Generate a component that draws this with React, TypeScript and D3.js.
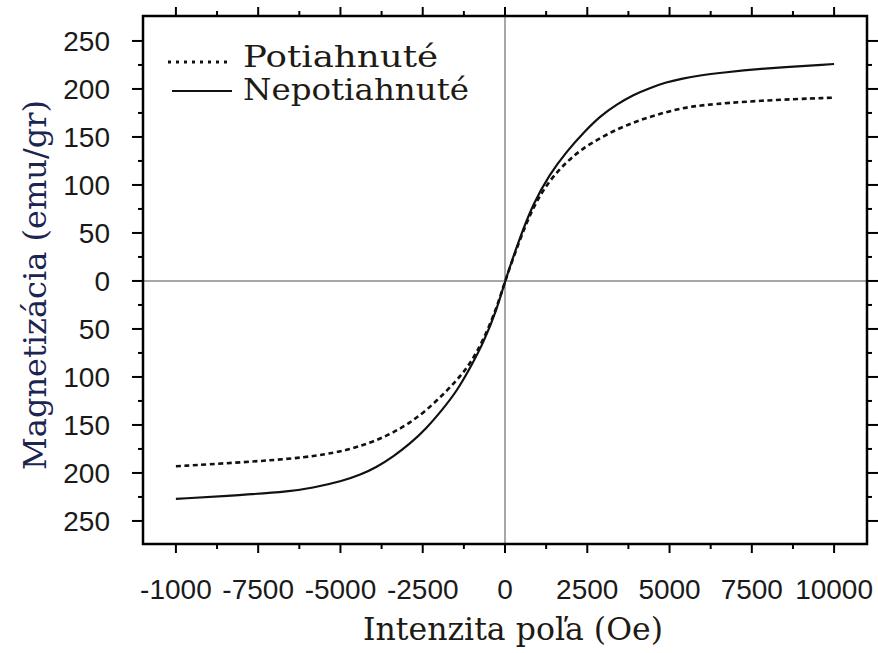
import React from "react";
import * as d3 from "d3";

// Nepotiahnuté (solid)
const solidField = [-10000, -8000, -6500, -5900, -4900, -4400, -3900, -3400, -2900, -2400, -1900, -1450, -1050, -650, -250, 0, 450, 850, 1350, 1900, 2400, 2900, 3400, 3900, 4400, 4900, 5400, 5900, 6600, 7700, 10000];
const solidMag = [-227, -223, -219, -216, -208, -202, -194, -183, -170, -154, -134, -114, -90, -64, -30, 0, 45, 80, 111, 136, 155, 172, 184, 194, 201, 207, 211, 214, 217, 221, 226];

// Potiahnuté (dashed)
const dashField = [-10000, -8000, -6000, -4900, -4400, -3900, -3400, -2900, -2400, -1900, -1450, -1050, -650, -250, 0, 450, 850, 1350, 1900, 2400, 2900, 3400, 3900, 4400, 4900, 5400, 5900, 7700, 10000];
const dashMag = [-193, -189, -184, -177, -172, -166, -158, -148, -135, -119, -103, -86, -61, -28, 0, 43, 77, 105, 125, 139, 149, 158, 165, 171, 176, 180, 183, 188, 191];

const xTickValues = [-10000, -7500, -5000, -2500, 0, 2500, 5000, 7500, 10000];
const xTickLabels = ["-1000", "-7500", "-5000", "-2500", "0", "2500", "5000", "7500", "10000"];
const yTickValues = [250, 200, 150, 100, 50, 0, -50, -100, -150, -200, -250];
const yTickLabels = ["250", "200", "150", "100", "50", "0", "50", "100", "150", "200", "250"];

const legendLabels = ["Potiahnuté", "Nepotiahnuté"];
const xTitle = "Intenzita poľa (Oe)";
const yTitle = "Magnetizácia (emu/gr)";

export default function App() {
  const W = 878, H = 653;
  const L = 143, R = 867, T = 16, B = 544;
  const x = d3.scaleLinear().domain([-11000, 11000]).range([L, R]);
  const y = d3.scaleLinear().domain([-274, 276]).range([B, T]);

  const line = d3
    .line<[number, number]>()
    .x((d) => x(d[0]))
    .y((d) => y(d[1]))
    .curve(d3.curveBasis);

  const solidPts: [number, number][] = solidField.map((f, i) => [f, solidMag[i]]);
  const dashPts: [number, number][] = dashField.map((f, i) => [f, dashMag[i]]);

  const xMinor = d3.range(-10000, 10001, 1250);
  const yMinor = d3.range(-250, 251, 25);

  const sans = "'Liberation Sans', Arial, sans-serif";
  const serif = "'DejaVu Serif', serif";

  return (
    <svg width={W} height={H} style={{ position: "absolute", left: 0, top: 0, background: "#fff" }}>
      <rect x={0} y={0} width={W} height={H} fill="#fff" />
      {/* zero lines */}
      <line x1={L} x2={R} y1={y(0)} y2={y(0)} stroke="#8a8a8a" strokeWidth={1.5} />
      <line x1={x(0)} x2={x(0)} y1={T} y2={B} stroke="#8a8a8a" strokeWidth={1.5} />

      {/* x ticks (top and bottom, outward) */}
      {xMinor.map((v) => {
        const major = v % 2500 === 0;
        const len = major ? 9 : 5;
        return (
          <g key={"xt" + v}>
            <line x1={x(v)} x2={x(v)} y1={B} y2={B + len} stroke="#000" strokeWidth={2} />
            <line x1={x(v)} x2={x(v)} y1={T} y2={T - len} stroke="#000" strokeWidth={2} />
          </g>
        );
      })}
      {/* y ticks (left and right, outward) */}
      {yMinor.map((v) => {
        const major = v % 50 === 0;
        const len = major ? 11 : 5;
        return (
          <g key={"yt" + v}>
            <line x1={L} x2={L - len} y1={y(v)} y2={y(v)} stroke="#000" strokeWidth={2} />
            <line x1={R} x2={R + len} y1={y(v)} y2={y(v)} stroke="#000" strokeWidth={2} />
          </g>
        );
      })}

      {/* frame */}
      <rect x={L} y={T} width={R - L} height={B - T} fill="none" stroke="#000" strokeWidth={2.5} />

      {/* tick labels */}
      {xTickValues.map((v, i) => (
        <text key={"xl" + v} x={x(v)} y={599} textAnchor="middle" fontFamily={sans} fontSize={28} fill="#1a1a1a">
          {xTickLabels[i]}
        </text>
      ))}
      {yTickValues.map((v, i) => (
        <text key={"yl" + i} x={110} y={y(v)} dy="0.36em" textAnchor="end" fontFamily={sans} fontSize={28} fill="#1a1a1a">
          {yTickLabels[i]}
        </text>
      ))}

      {/* curves */}
      <path d={line(dashPts) || ""} fill="none" stroke="#111" strokeWidth={2.6} strokeDasharray="5,3.5" />
      <path d={line(solidPts) || ""} fill="none" stroke="#111" strokeWidth={2.2} />

      {/* legend */}
      <line x1={168} x2={232} y1={62} y2={62} stroke="#111" strokeWidth={3} strokeDasharray="3,5" />
      <text x={243} y={67} fontFamily={serif} fontSize={30} fill="#1e1a14" textLength={195} lengthAdjust="spacingAndGlyphs">
        {legendLabels[0]}
      </text>
      <line x1={172} x2={232} y1={91} y2={91} stroke="#111" strokeWidth={2.2} />
      <text x={243} y={100} fontFamily={serif} fontSize={30} fill="#1e1a14" textLength={226} lengthAdjust="spacingAndGlyphs">
        {legendLabels[1]}
      </text>

      {/* axis titles */}
      <text x={513} y={640} textAnchor="middle" fontFamily={serif} fontSize={31} fill="#1e1a14" textLength={300} lengthAdjust="spacingAndGlyphs">
        {xTitle}
      </text>
      <text
        transform={`translate(46,285) rotate(-90)`}
        textAnchor="middle"
        fontFamily={serif}
        fontSize={31}
        fill="#1c2450"
        textLength={370}
        lengthAdjust="spacingAndGlyphs"
      >
        {yTitle}
      </text>
    </svg>
  );
}
